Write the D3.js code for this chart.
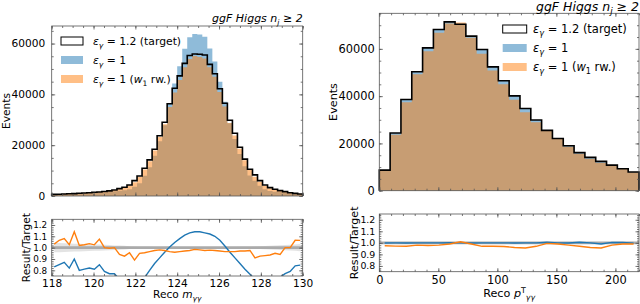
<!DOCTYPE html>
<html>
<head>
<meta charset="utf-8">
<script src="https://cdn.jsdelivr.net/npm/d3@7"></script>
<style>
  body { margin: 0; background: #fff; }
  svg text { font-family: "DejaVu Sans", sans-serif; fill: #000; }
</style>
</head>
<body>
<svg id="chart" width="640" height="304"></svg>
<script>
// ---- m_yy histogram, 50 bins between 118 and 130
var massRange = [118, 130];
var massTarget = [650, 710, 780, 860, 950, 1060, 1180, 1300, 1450, 1600,
  1800, 2000, 2370, 2900, 3420, 4340, 6050, 7900, 10900, 14200,
  18400, 23700, 29000, 36300, 42400, 47300, 52200, 55300, 55900, 55800,
  55500, 51800, 48100, 42200, 36500, 29800, 24700, 19200, 14500, 10500,
  8300, 6050, 4340, 3290, 2630, 2100, 1710, 1300, 1050, 790];
var massNominal = [540, 604, 679, 705, 855, 848, 956, 1066, 1175, 1360,
  1422, 1540, 1825, 2088, 2257, 2691, 3630, 5056, 8012, 11360,
  15824, 21567, 27840, 36482, 44308, 51084, 57942, 62489, 63726, 63612,
  62715, 58016, 52910, 44943, 37048, 28608, 22477, 16512, 11745, 8033,
  5976, 3993, 2691, 1974, 1631, 1554, 1317, 1027, 882, 668];
var massRw = [670, 756, 842, 882, 1083, 1081, 1210, 1346, 1486, 1720,
  1800, 1990, 2370, 2726, 3164, 4145, 5385, 7505, 10410, 13703,
  17940, 23226, 28275, 35030, 40704, 45645, 50634, 53918, 55062, 54684,
  54113, 50660, 46898, 40934, 35223, 28757, 23836, 18624, 14065, 10238,
  7553, 5596, 4036, 3076, 2499, 1974, 1710, 1300, 1118, 841];
// relative uncertainty of the target (grey band)
var massBand = [0.04, 0.04, 0.038, 0.037, 0.035, 0.034, 0.032, 0.03, 0.028, 0.027,
  0.025, 0.023, 0.02, 0.018, 0.016, 0.013, 0.011, 0.009, 0.008, 0.007,
  0.006, 0.006, 0.005, 0.005, 0.005, 0.005, 0.005, 0.005, 0.005, 0.005,
  0.005, 0.005, 0.005, 0.005, 0.005, 0.006, 0.006, 0.007, 0.008, 0.009,
  0.011, 0.013, 0.015, 0.017, 0.019, 0.021, 0.023, 0.026, 0.028, 0.032];
var massTicks = [118, 120, 122, 124, 126, 128, 130];

// ---- pT histogram, 24 bins between 0 and 220
var ptRange = [0, 220];
var ptTarget = [8700, 24400, 38600, 50300, 60400, 68200, 71400, 70400, 65400, 59700,
  52400, 46500, 40100, 34800, 29900, 25500, 22100, 19000, 16100, 14100,
  12400, 10800, 9300, 7900];
var ptNominal = [8691, 24400, 38561, 50300, 60400, 68200, 71471, 70400, 65335, 59700,
  52400, 46500, 40060, 34800, 29900, 25628, 22100, 18981, 16181, 14100,
  12276, 10843, 9328, 7884];
var ptRw = [8483, 23717, 37442, 49294, 59011, 66836, 70686, 71104, 64746, 57909,
  50828, 45012, 38496, 33234, 29003, 25373, 21879, 18620, 15617, 13536,
  11842, 10584, 9207, 7821];
var ptBand = [0.01, 0.006, 0.005, 0.004, 0.004, 0.004, 0.004, 0.004, 0.004, 0.004,
  0.004, 0.005, 0.005, 0.005, 0.006, 0.006, 0.006, 0.007, 0.007, 0.008,
  0.008, 0.009, 0.01, 0.011];
var ptTicks = [0, 50, 100, 150, 200];

var countTicks = [0, 20000, 40000, 60000];
var ratioTicks = [0.8, 0.9, 1.0, 1.1, 1.2];
var ratioRange = [0.75, 1.25];

var blue = '#1f77b4', orange = '#ff7f0e';

var svg = d3.select('#chart');

// text with italic / sub / sup pieces
function rich(text, parts, size) {
  var cur = 0;
  parts.forEach(function(p) {
    var off = p.sub ? 0.28 * size : (p.sup ? -0.4 * size : 0);
    var ts = text.append('tspan').text(p.t).attr('dy', off - cur);
    cur = off;
    if (p.sub || p.sup) ts.style('font-size', (size * 0.7) + 'px');
    if (p.i) ts.style('font-style', 'italic');
  });
  return text;
}

var eps = [{t: 'ε', i: 1}, {t: 'γ', i: 1, sub: 1}];
var legendItems = [
  eps.concat([{t: ' = 1.2 (target)'}]),
  eps.concat([{t: ' = 1'}]),
  eps.concat([{t: ' = 1 ('}, {t: 'w', i: 1}, {t: '1', sub: 1}, {t: ' rw.)'}])
];
var titleParts = [{t: 'ggF Higgs ', i: 1}, {t: 'n', i: 1}, {t: 'j', i: 1, sub: 1}, {t: ' ≥ 2', i: 1}];

function styleAxis(sel, fs) {
  sel.select('.domain').remove();
  sel.selectAll('line').attr('stroke', '#555').attr('stroke-width', 0.8);
  sel.attr('font-family', null).attr('font-size', null);
  sel.selectAll('text').style('font-size', fs + 'px').attr('fill', '#000');
}

// inward ticks on all four sides of a panel
function panelAxes(g, x, y, p) {
  var T = 3.5, t = 2;
  var sets = [[p.xMajor, p.yMajor, T], [p.xMinor, p.yMinor, t]];
  sets.forEach(function(s, k) {
    var major = k === 0;
    g.append('g').attr('transform', 'translate(0,' + p.bottom + ')')
      .call(d3.axisBottom(x).tickValues(s[0]).tickSizeInner(-s[2]).tickSizeOuter(0)
        .tickPadding(p.xPad).tickFormat(major && p.xLabels ? d3.format('d') : ''))
      .call(styleAxis, p.fsX);
    g.append('g').attr('transform', 'translate(0,' + p.top + ')')
      .call(d3.axisTop(x).tickValues(s[0]).tickSizeInner(-s[2]).tickSizeOuter(0).tickFormat(''))
      .call(styleAxis, p.fsX);
    g.append('g').attr('transform', 'translate(' + p.left + ',0)')
      .call(d3.axisLeft(y).tickValues(s[1]).tickSizeInner(-s[2]).tickSizeOuter(0)
        .tickPadding(p.yPad).tickFormat(major ? p.yFormat : ''))
      .call(styleAxis, p.fsY);
    g.append('g').attr('transform', 'translate(' + p.right + ',0)')
      .call(d3.axisRight(y).tickValues(s[1]).tickSizeInner(-s[2]).tickSizeOuter(0).tickFormat(''))
      .call(styleAxis, p.fsY);
  });
  g.append('rect')
    .attr('x', p.left).attr('y', p.top)
    .attr('width', p.right - p.left).attr('height', p.bottom - p.top)
    .attr('fill', 'none').attr('stroke', '#555').attr('stroke-width', 0.8);
}

function drawFigure(cfg) {
  var g = svg.append('g');
  var n = cfg.target.length;
  var w = (cfg.range[1] - cfg.range[0]) / n;
  var edges = d3.range(n + 1).map(function(i) { return cfg.range[0] + i * w; });
  var centers = d3.range(n).map(function(i) { return cfg.range[0] + (i + 0.5) * w; });

  var x = d3.scaleLinear().domain(cfg.range).range([cfg.left, cfg.right]);
  var yMax = d3.max(cfg.target.concat(cfg.nominal, cfg.rw)) * 1.05;
  var y = d3.scaleLinear().domain([0, yMax]).range([cfg.mainBottom, cfg.mainTop]);
  var yr = d3.scaleLinear().domain(ratioRange).range([cfg.ratioBottom, cfg.ratioTop]);

  function steps(vals) {
    var pts = [];
    vals.forEach(function(v, i) { pts.push([edges[i], v]); pts.push([edges[i + 1], v]); });
    return pts;
  }
  var area = d3.area().x(function(d) { return x(d[0]); }).y0(y(0)).y1(function(d) { return y(d[1]); });
  var line = d3.line().x(function(d) { return x(d[0]); }).y(function(d) { return y(d[1]); });

  g.append('path').attr('d', area(steps(cfg.nominal))).attr('fill', blue).attr('fill-opacity', 0.5);
  g.append('path').attr('d', area(steps(cfg.rw))).attr('fill', orange).attr('fill-opacity', 0.5);
  g.append('path')
    .attr('d', line([[edges[0], 0]].concat(steps(cfg.target), [[edges[n], 0]])))
    .attr('fill', 'none').attr('stroke', '#000').attr('stroke-width', 1.6);

  panelAxes(g, x, y, {
    top: cfg.mainTop, bottom: cfg.mainBottom, left: cfg.left, right: cfg.right,
    xMajor: cfg.xTicks, xMinor: d3.range(cfg.range[0], cfg.range[1] + 1e-9, cfg.xMinorStep),
    yMajor: countTicks, yMinor: d3.range(0, yMax, 5000),
    xLabels: false, xPad: 0, yPad: cfg.yPad, yFormat: d3.format('d'),
    fsX: cfg.fs.tick, fsY: cfg.fs.tick
  });

  // ratio panel
  var clipId = 'clip' + cfg.id;
  g.append('clipPath').attr('id', clipId).append('rect')
    .attr('x', cfg.left).attr('y', cfg.ratioTop)
    .attr('width', cfg.right - cfg.left).attr('height', cfg.ratioBottom - cfg.ratioTop);
  var rg = g.append('g').attr('clip-path', 'url(#' + clipId + ')');

  rg.append('path')
    .attr('d', d3.area()
      .x(function(d, i) { return x(centers[i]); })
      .y0(function(d) { return yr(1 - d); })
      .y1(function(d) { return yr(1 + d); })(cfg.band))
    .attr('fill', '#dcdcdc').attr('fill-opacity', 0.8);
  rg.append('line')
    .attr('x1', cfg.left).attr('x2', cfg.right).attr('y1', yr(1)).attr('y2', yr(1))
    .attr('stroke', '#aaa').attr('stroke-width', 2.6);

  var rline = d3.line().x(function(d, i) { return x(centers[i]); }).y(function(d) { return yr(d); });
  [[cfg.nominal, blue], [cfg.rw, orange]].forEach(function(s) {
    var ratio = s[0].map(function(v, i) { return v / cfg.target[i]; });
    rg.append('path').attr('d', rline(ratio))
      .attr('fill', 'none').attr('stroke', s[1]).attr('stroke-width', 1.4);
  });

  panelAxes(g, x, yr, {
    top: cfg.ratioTop, bottom: cfg.ratioBottom, left: cfg.left, right: cfg.right,
    xMajor: cfg.xTicks, xMinor: d3.range(cfg.range[0], cfg.range[1] + 1e-9, cfg.xMinorStep),
    yMajor: ratioTicks, yMinor: d3.range(0.76, 1.25, 0.02),
    xLabels: true, xPad: cfg.xPad, yPad: cfg.rPad, yFormat: d3.format('.1f'),
    fsX: cfg.fs.tick, fsY: cfg.fs.rtick
  });

  // legend
  var lg = cfg.legend;
  var fills = [['#fff', '#000'], [blue, 'none'], [orange, 'none']];
  legendItems.forEach(function(parts, k) {
    g.append('rect').attr('x', lg.x).attr('y', lg.y[k] - lg.h / 2)
      .attr('width', lg.w).attr('height', lg.h)
      .attr('fill', fills[k][0]).attr('fill-opacity', k === 0 ? 1 : 0.5)
      .attr('stroke', fills[k][1]).attr('stroke-width', 1);
    rich(g.append('text').attr('x', lg.tx).attr('y', lg.y[k] + 0.36 * cfg.fs.legend)
      .style('font-size', cfg.fs.legend + 'px'), parts, cfg.fs.legend);
  });

  // title and axis labels
  rich(g.append('text').attr('x', cfg.right).attr('y', cfg.titleY)
    .attr('text-anchor', 'end').style('font-size', cfg.fs.title + 'px'), titleParts, cfg.fs.title);
  rich(g.append('text').attr('x', (cfg.left + cfg.right) / 2).attr('y', cfg.xLabelY)
    .attr('text-anchor', 'middle').style('font-size', cfg.fs.label + 'px'), cfg.xLabel, cfg.fs.label);
  g.append('text').text('Events')
    .attr('transform', 'translate(' + cfg.evX + ',' + (cfg.mainTop + cfg.mainBottom) / 2 + ') rotate(-90)')
    .attr('text-anchor', 'middle').style('font-size', cfg.fs.label + 'px');
  g.append('text').text('Result/Target')
    .attr('transform', 'translate(' + cfg.rtX + ',' + (cfg.ratioTop + cfg.ratioBottom) / 2 + ') rotate(-90)')
    .attr('text-anchor', 'middle').style('font-size', cfg.fs.label + 'px');
}

drawFigure({
  id: 'm', range: massRange, target: massTarget, nominal: massNominal, rw: massRw, band: massBand,
  xTicks: massTicks, xMinorStep: 0.5,
  left: 51.7, right: 302.7, mainTop: 26, mainBottom: 196, ratioTop: 219.3, ratioBottom: 276,
  yPad: 6.5, rPad: 4.5, xPad: 3.5,
  fs: {tick: 10.6, rtick: 8.8, label: 10.6, legend: 10.8, title: 11},
  legend: {x: 61, y: [41, 60, 79], w: 22, h: 8, tx: 93},
  titleY: 22, xLabelY: 298, evX: 10, rtX: 30,
  xLabel: [{t: 'Reco '}, {t: 'm', i: 1}, {t: 'γγ', i: 1, sub: 1}]
});

drawFigure({
  id: 'pt', range: ptRange, target: ptTarget, nominal: ptNominal, rw: ptRw, band: ptBand,
  xTicks: ptTicks, xMinorStep: 10,
  left: 379.3, right: 639, mainTop: 13.3, mainBottom: 190.7, ratioTop: 214, ratioBottom: 271.7,
  yPad: 4.5, rPad: 4, xPad: 4,
  fs: {tick: 11.4, rtick: 9.4, label: 11.2, legend: 11.5, title: 12.5},
  legend: {x: 502.7, y: [29, 48, 67], w: 24, h: 8, tx: 533},
  titleY: 10.5, xLabelY: 297, evX: 337, rtX: 358,
  xLabel: [{t: 'Reco '}, {t: 'p', i: 1}, {t: 'T', sup: 1}, {t: 'γγ', i: 1, sub: 1}]
});
</script>
</body>
</html>
